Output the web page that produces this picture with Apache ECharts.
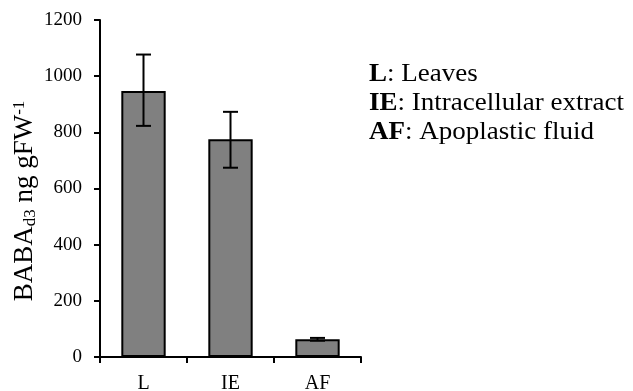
<!DOCTYPE html>
<html><head><meta charset="utf-8">
<script src="https://cdn.jsdelivr.net/npm/echarts@6/dist/echarts.min.js"></script>
<style>html,body{margin:0;padding:0;background:#fff}#c{width:633px;height:391px}</style>
</head><body><div id="c"></div>
<script>
var categories = ['L', 'IE', 'AF'];
var values = [947, 775, 63];
var errLow = [823, 674, 58];
var errHigh = [1077, 873, 68];
var yTicks = [0, 200, 400, 600, 800, 1000, 1200];
var legendLines = [['L', ': Leaves'], ['IE', ': Intracellular extract'], ['AF', ': Apoplastic fluid']];
var yTitle = ['BABA', 'd3', ' ng gFW', '-1'];

var font = '"Liberation Serif", "Times New Roman", serif';
var chart = echarts.init(document.getElementById('c'));
var errData = categories.map(function (c, i) { return [i, errLow[i], errHigh[i]]; });

var graphics = legendLines.map(function (l, i) {
  return {
    type: 'text', left: 369, top: 62 + i * 29, scaleX: 1.08,
    style: {
      text: '{b|' + l[0] + '}{n|' + l[1] + '}',
      rich: {
        b: { fontFamily: font, fontWeight: 'bold', fontSize: 25, fill: '#000' },
        n: { fontFamily: font, fontSize: 25, fill: '#000' }
      }
    }
  };
});
graphics.push({
  type: 'text', x: 25, y: 201, rotation: Math.PI / 2,
  style: {
    text: '{a|' + yTitle[0] + '}{s|' + yTitle[1] + '}{a|' + yTitle[2] + '}{p|' + yTitle[3] + '}',
    align: 'center', verticalAlign: 'middle',
    rich: {
      a: { fontFamily: font, fontSize: 27, fill: '#000' },
      s: { fontFamily: font, fontSize: 17, fill: '#000', verticalAlign: 'bottom', padding: [11, 0, 0, 0] },
      p: { fontFamily: font, fontSize: 17, fill: '#000', verticalAlign: 'top', padding: [0, 0, 11, 0] }
    }
  }
});

chart.setOption({
  animation: false,
  grid: { left: 100, right: 272, top: 20, bottom: 34, outerBoundsMode: 'none', containLabel: false },
  xAxis: {
    type: 'category', data: categories,
    axisLine: { lineStyle: { color: '#000', width: 2 } },
    axisTick: { show: true, length: 6, lineStyle: { color: '#000', width: 2 } },
    axisLabel: { fontFamily: font, fontSize: 20, color: '#000', margin: 17 }
  },
  yAxis: {
    type: 'value', min: 0, max: 1200, interval: 200,
    axisLine: { show: true, lineStyle: { color: '#000', width: 2 } },
    axisTick: { show: true, length: 6, lineStyle: { color: '#000', width: 2 } },
    axisLabel: { fontFamily: font, fontSize: 19, color: '#000', margin: 18,
      formatter: function (v) { return String(v); } },
    splitLine: { show: false }
  },
  graphic: graphics,
  series: [
    {
      type: 'bar', data: values, barWidth: '51%',
      itemStyle: { color: '#808080', borderColor: '#000', borderWidth: 2 }
    },
    {
      type: 'custom', data: errData, z: 10,
      renderItem: function (params, api) {
        var x = api.value(0);
        var lo = api.coord([x, api.value(1)]);
        var hi = api.coord([x, api.value(2)]);
        var hw = 7.5;
        var st = { stroke: '#000', lineWidth: 2 };
        return {
          type: 'group', children: [
            { type: 'line', shape: { x1: hi[0], y1: hi[1], x2: lo[0], y2: lo[1] }, style: st },
            { type: 'line', shape: { x1: hi[0] - hw, y1: hi[1], x2: hi[0] + hw, y2: hi[1] }, style: st },
            { type: 'line', shape: { x1: lo[0] - hw, y1: lo[1], x2: lo[0] + hw, y2: lo[1] }, style: st }
          ]
        };
      }
    }
  ]
});
</script></body></html>
